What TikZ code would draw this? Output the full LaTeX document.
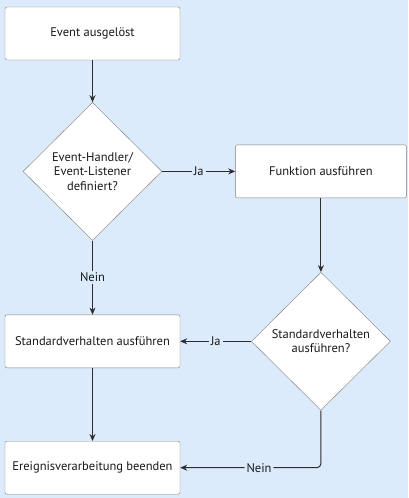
\documentclass[tikz,border=0pt]{standalone}
\usepackage{fontspec}
\setmainfont{PT Sans}
\usepackage{tikz}
\usetikzlibrary{
	shapes.geometric,
	arrows.meta,
	positioning,
	calc
}
\definecolor{bgblue}{RGB}{220,235,251}
\definecolor{framegray}{RGB}{125,125,125}
\definecolor{linegray}{RGB}{45,45,45}

\begin{document}
\begin{tikzpicture}[x=1pt, y=1pt,
				box/.style={
					rectangle, draw=framegray, rounded corners=2pt, fill=white,
					minimum width=175pt, minimum height=53pt,
					align=center, font=\fontsize{12.5}{14.5}\selectfont, text=black!90
				},
				decision/.style={
					diamond, draw=framegray, fill=white, inner sep=0pt,
					minimum width=139pt, minimum height=138pt,
					align=center, font=\fontsize{12.5}{14.5}\selectfont, text=black!90
				},
				arrow/.style={-{Stealth[length=7pt,width=6pt]}, draw=linegray, line width=1pt},
				answer/.style={fill=bgblue, inner sep=2pt, font=\fontsize{12.5}{14.5}\selectfont, text=black!90},
				]
				
				\fill[bgblue] (0,0) rectangle (408,-498);
				\useasboundingbox (0,0) rectangle (408,-498);
				
				\node[box] (event) at (92.5,-33.5) {Event ausgelöst};
				
				%first decision
				\node[decision, below=42pt of event] (handler) {Event-Handler/\\Event-Listener\\definiert?};
				\draw[arrow] (event) -- (handler);
				
				\node[box, right=73pt of handler, minimum width=171pt] (funktion) {Funktion ausführen};
				\draw[arrow] (handler) -- node[answer] {Ja} (funktion);
				
				%second decision
				\node[decision, below=74pt of funktion] (standard) {Standardverhalten\\ausführen?};
				\draw[arrow] (funktion) -- (standard);
				
				\node (defaultact) at (event |- standard) [box] {Standardverhalten ausführen};
				\draw[arrow] (handler) -- node[answer] {Nein} (defaultact);
				\draw[arrow] (standard) -- node[answer] {Ja} (defaultact);
				
				%end
				\node[box, below=73pt of defaultact] (finish) {Ereignisverarbeitung beenden};
				\draw[arrow] (defaultact) -- (finish);
				\draw[arrow, rounded corners=4pt] (standard.south) |- node[answer, pos=0.72] {Nein} (finish);
			\end{tikzpicture}
\end{document}
